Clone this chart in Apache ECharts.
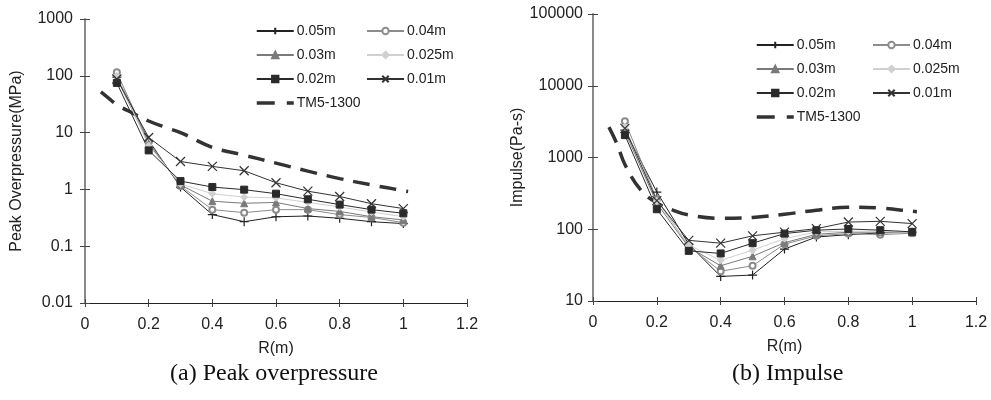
<!DOCTYPE html>
<html>
<head>
<meta charset="utf-8">
<script src="https://cdn.jsdelivr.net/npm/echarts@6/dist/echarts.min.js"></script>
<style>
html,body{margin:0;padding:0;background:#fff;}
#chart{width:991px;height:400px;}
</style>
</head>
<body>
<div id="chart"></div>
<script>
// Standoff distances (m) for the measured series
const rValues = [0.1, 0.2, 0.3, 0.4, 0.5, 0.6, 0.7, 0.8, 0.9, 1.0];
const seriesNames = ['0.05m', '0.04m', '0.03m', '0.025m', '0.02m', '0.01m'];

// Peak overpressure (MPa)
const press005 = [95, 7.3, 1.1, 0.36, 0.27, 0.33, 0.34, 0.31, 0.27, 0.25];
const press004 = [115, 6.8, 1.15, 0.44, 0.39, 0.44, 0.44, 0.36, 0.32, 0.26];
const press003 = [90, 6.4, 1.2, 0.62, 0.57, 0.59, 0.46, 0.41, 0.33, 0.29];
const press0025 = [100, 5.9, 1.25, 0.84, 0.73, 0.71, 0.59, 0.49, 0.40, 0.33];
const press002 = [75, 4.86, 1.4, 1.1, 0.99, 0.84, 0.67, 0.54, 0.44, 0.38];
const press001 = [88, 8.2, 3.1, 2.54, 2.13, 1.31, 0.93, 0.75, 0.56, 0.46];

// Impulse (Pa-s)
const imp005 = [2400, 330, 62, 22, 23, 53, 78, 84, 89, 91];
const imp004 = [3200, 260, 58, 26, 31, 62, 81, 87, 84, 88];
const imp003 = [2300, 230, 56, 31, 42, 65, 85, 91, 91, 90];
const imp0025 = [2700, 245, 60, 37, 51, 74, 92, 94, 93, 90];
const imp002 = [2050, 190, 50, 46, 64, 87, 97, 101, 97, 92];
const imp001 = [2550, 250, 70, 64, 81, 91, 102, 126, 129, 120];

// TM5-1300 reference curves
const tmR = [0.05, 0.075, 0.1, 0.15, 0.2, 0.25, 0.3, 0.4, 0.5, 0.6, 0.7, 0.8, 0.9, 1.0, 1.015];
const tmPress = [52, 40, 31, 22, 16, 12.5, 10, 5.5, 4.0, 2.9, 2.1, 1.55, 1.2, 0.95, 0.92];
const tmImp = [2650, 1550, 800, 350, 232, 185, 158, 142, 146, 162, 184, 203, 197, 178, 176];

// Tick labels
const xTicks = ['0', '0.2', '0.4', '0.6', '0.8', '1', '1.2'];
const pressTicks = ['0.01', '0.1', '1', '10', '100', '1000'];
const impTicks = ['10', '100', '1000', '10000', '100000'];

const FONT = 'Liberation Sans, Arial, sans-serif';
const styles = {
  '0.05m': {color: '#222', symbol: 'path://M0,5L10,5M5,0L5,10', size: 9, fill: false},
  '0.04m': {color: '#8c8c8c', symbol: 'emptyCircle', size: 6, fill: true},
  '0.03m': {color: '#7a7a7a', symbol: 'triangle', size: 7, fill: true},
  '0.025m': {color: '#d0d0d0', symbol: 'diamond', size: 7, fill: true},
  '0.02m': {color: '#2a2a2a', symbol: 'rect', size: 7, fill: true},
  '0.01m': {color: '#333', symbol: 'path://M0,0L10,10M10,0L0,10', size: 9, fill: false}
};

function pairs(xs, ys) { return xs.map((x, i) => [x, ys[i]]); }

function measured(name, ys, xi, yi) {
  const s = styles[name];
  return {
    name: name, type: 'line', xAxisIndex: xi, yAxisIndex: yi,
    data: pairs(rValues, ys),
    symbol: s.symbol, symbolSize: s.size, symbolKeepAspect: true,
    lineStyle: {color: s.color, width: 1},
    itemStyle: s.fill
      ? {color: s.color, borderColor: s.color, borderWidth: 1}
      : {color: 'rgba(0,0,0,0)', borderColor: s.color, borderWidth: 1.2},
    animation: false, z: 3
  };
}

function tmSeries(ys, xi, yi) {
  return {
    name: 'TM5-1300', type: 'line', xAxisIndex: xi, yAxisIndex: yi,
    data: pairs(tmR, ys), smooth: 0.4, symbol: 'none',
    lineStyle: {color: '#333', width: 3.5, type: [17, 10]},
    itemStyle: {color: '#333'},
    animation: false, z: 2
  };
}

function xAxisPair(gridIndex) {
  const base = {
    type: 'value', gridIndex: gridIndex, min: 0, max: 1.2, interval: 0.2,
    position: 'bottom', splitLine: {show: false}
  };
  return [
    Object.assign({}, base, {
      name: 'R(m)', nameLocation: 'middle', nameGap: 38,
      nameTextStyle: {fontFamily: FONT, fontSize: 16, color: '#222'},
      axisLine: {lineStyle: {color: '#222', width: 1}},
      axisTick: {inside: false, length: 4, lineStyle: {color: '#444'}},
      axisLabel: {fontFamily: FONT, fontSize: 16, color: '#222', margin: 14,
        formatter: v => xTicks[Math.round(v / 0.2)]}
    }),
    Object.assign({}, base, {
      axisLine: {show: false},
      axisTick: {inside: true, length: 4, lineStyle: {color: '#444'}},
      axisLabel: {show: false}
    })
  ];
}

function yAxisPair(gridIndex, min, max, ticks, name, gap, margin) {
  const base = {
    type: 'log', logBase: 10, gridIndex: gridIndex, min: min, max: max,
    position: 'left', splitLine: {show: false}, minorTick: {show: false}
  };
  return [
    Object.assign({}, base, {
      name: name, nameLocation: 'middle', nameGap: gap,
      nameTextStyle: {fontFamily: FONT, fontSize: 16, color: '#222'},
      axisLine: {lineStyle: {color: '#8a8a8a', width: 2}},
      axisTick: {inside: false, length: 5, lineStyle: {color: '#444'}},
      axisLabel: {fontFamily: FONT, fontSize: 16, color: '#222', margin: margin,
        formatter: v => ticks[Math.round(Math.log10(v / min))]}
    }),
    Object.assign({}, base, {
      axisLine: {show: false},
      axisTick: {inside: true, length: 5, lineStyle: {color: '#444'}},
      axisLabel: {show: false}
    })
  ];
}

function legendBlock(left, top, names) {
  return {
    left: left, top: top, orient: 'vertical', padding: 0,
    data: names.map(n => n === 'TM5-1300'
      ? {name: n, itemStyle: {opacity: 0}, lineStyle: {type: [18, 12], width: 3.5}}
      : {name: n}),
    itemWidth: 37, itemHeight: 8, itemGap: 10,
    textStyle: {fontFamily: FONT, fontSize: 14, color: '#222', padding: [0, 0, 0, -2]},
    selectedMode: false
  };
}

const chart = echarts.init(document.getElementById('chart'), null, {renderer: 'canvas'});

const pressData = [press005, press004, press003, press0025, press002, press001];
const impData = [imp005, imp004, imp003, imp0025, imp002, imp001];

const series = [];
seriesNames.forEach((n, i) => series.push(measured(n, pressData[i], 0, 0)));
series.push(tmSeries(tmPress, 0, 0));
seriesNames.forEach((n, i) => series.push(measured(n, impData[i], 2, 2)));
series.push(tmSeries(tmImp, 2, 2));

chart.setOption({
  backgroundColor: '#fff',
  animation: false,
  grid: [
    {left: 85, top: 19, width: 382, height: 284},
    {left: 593, top: 14, width: 383, height: 287}
  ],
  xAxis: [...xAxisPair(0), ...xAxisPair(1)],
  yAxis: [
    ...yAxisPair(0, 0.01, 1000, pressTicks, 'Peak Overpressure(MPa)', 60, 12),
    ...yAxisPair(1, 10, 100000, impTicks, 'Impulse(Pa-s)', 64, 10)
  ],
  legend: [
    legendBlock(255, 24, ['0.05m', '0.03m', '0.02m', 'TM5-1300']),
    legendBlock(366, 24, ['0.04m', '0.025m', '0.01m']),
    legendBlock(755, 38, ['0.05m', '0.03m', '0.02m', 'TM5-1300']),
    legendBlock(872, 38, ['0.04m', '0.025m', '0.01m'])
  ],
  series: series,
  graphic: [
    {type: 'text', left: 170, top: 362,
      style: {text: '(a) Peak overpressure', font: '24px "Liberation Serif", "Times New Roman", serif', fill: '#111'}},
    {type: 'text', left: 732, top: 362,
      style: {text: '(b) Impulse', font: '24px "Liberation Serif", "Times New Roman", serif', fill: '#111'}}
  ]
});
</script>
</body>
</html>
